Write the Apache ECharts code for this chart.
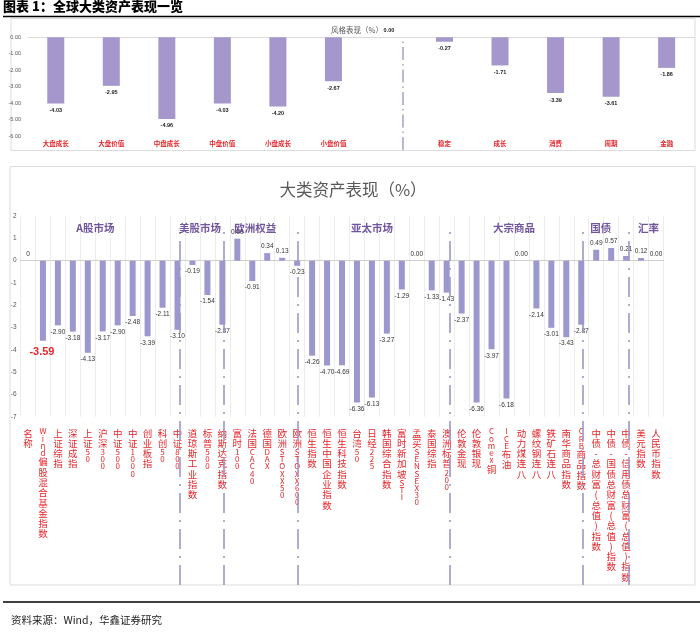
<!DOCTYPE html>
<html><head><meta charset="utf-8">
<script src="https://cdn.jsdelivr.net/npm/echarts@6/dist/echarts.min.js"></script>
<style>html,body{margin:0;padding:0;background:#fff}#c{width:700px;height:638px}</style>
</head><body><div id="c"></div>
<script>
// ---- data: style panel (top) ----
const styleCats = ['大盘成长','大盘价值','中盘成长','中盘价值','小盘成长','小盘价值','','稳定','成长','消费','周期','金融'];
const styleVals = [-4.03,-2.95,-4.96,-4.03,-4.20,-2.67,0.00,-0.27,-1.71,-3.39,-3.61,-1.86];
const styleTickMin = -6, styleTickMax = 0, styleTickStep = 1;
const styleDividerAt = [6.25];

// ---- data: asset panel (bottom) ----
const assetCats = ['名称','Wind偏股混合基金指数','上证综指','深证成指','上证50','沪深300','中证500','中证1000','创业板指','科创50','中证800',
  '道琼斯工业指数','标普500','纳斯达克指数',
  '富时100','法国CAC40','德国DAX','欧洲STOXX50','欧洲STOXX600',
  '恒生指数','恒生中国企业指数','恒生科技指数','台湾50','日经225','韩国综合指数','富时新加坡STI','孟买SENSEX30','泰国综指','澳洲标普200',
  '伦敦金现','伦敦银现','Comex铜','ICE布油','动力煤连八','螺纹钢连八','铁矿石连八','南华商品指数','CRB商品指数',
  '中债-总财富(总值)指数','中债-国债总财富(总值)指数','中债-信用债总财富(总值)指数',
  '美元指数','人民币指数'];
const assetVals = [0,-3.59,-2.90,-3.18,-4.13,-3.17,-2.90,-2.48,-3.39,-2.11,-3.10,
  -0.19,-1.54,-2.87,
  0.99,-0.91,0.34,0.13,-0.23,
  -4.26,-4.70,-4.69,-6.36,-6.13,-3.27,-1.29,0.00,-1.33,-1.43,
  -2.37,-6.36,-3.97,-6.18,0.00,-2.14,-3.01,-3.43,-2.87,
  0.49,0.57,0.21,
  0.12,0.00];
const assetTickMin = -7, assetTickMax = 2, assetTickStep = 1;
const highlightIdx = 1;
const groupNames = ['A股市场','美股市场','欧洲权益','亚太市场','大宗商品','国债','汇率'];
const groupAt = [4.5, 11.5, 15.2, 23.0, 32.5, 38.3, 41.5];
const groupLevel = 1.48;
const dividerAt = [10.15, 13.1, 18.05, 28.2, 37.1, 40.2];

// ---- layout / style ----
const CJK = '"Noto Sans CJK SC","Noto Sans",sans-serif';
const NARROW = '"Liberation Sans Narrow","Liberation Sans",Arial,sans-serif';
const RED = '#e5262b';
const BAR_TOP = '#a596cc';
const BAR_BOT = '#9c97cc';
const DIV_COLOR = '#9b98c6';

function vert(s){
  return Array.from(s).map(ch => /[A-Za-z0-9]/.test(ch) ? '{l|'+ch+'}' : '{c|'+ch+'}').join('\n');
}

const chart = echarts.init(document.getElementById('c'), null, {renderer:'canvas'});

const G = {outerBoundsMode:'none', containLabel:false};
const option = {
  animation:false,
  backgroundColor:'#ffffff',
  title:[
    {text:'风格表现（%）', left:352, top:21, textAlign:'center',
     textStyle:{fontFamily:CJK, fontSize:7.5, fontWeight:'normal', color:'#595959'}},
    {text:'大类资产表现（%）', left:348, top:176, textAlign:'center',
     textStyle:{fontFamily:CJK, fontSize:16.5, fontWeight:'normal', color:'#595959'}}
  ],
  graphic:[
    {type:'text', left:3, top:0, style:{text:'图表 1：全球大类资产表现一览', font:'900 13px '+CJK, fill:'#000'}},
    {type:'line', shape:{x1:3,y1:16.5,x2:700,y2:16.5}, style:{stroke:'#000', lineWidth:1.5}},
    {type:'rect', shape:{x:11,y:18.5,width:684,height:132}, style:{fill:'none', stroke:'#dcdcdc', lineWidth:1}},
    {type:'rect', shape:{x:10,y:166.5,width:685,height:418.5}, style:{fill:'none', stroke:'#dcdcdc', lineWidth:1}},
    {type:'line', shape:{x1:3,y1:602,x2:700,y2:602}, style:{stroke:'#000', lineWidth:1.5}},
    {type:'text', left:11, top:615, style:{text:'资料来源：Wind，华鑫证券研究', font:'10.5px '+CJK, fill:'#222'}}
  ],
  grid:[
    Object.assign({left:28, right:5.6, top:37.3, bottom:638-136}, G),
    Object.assign({left:28, right:5.6, top:40, bottom:638-150}, G),
    Object.assign({left:20.5, right:36.5, top:216.1, bottom:638-416.8}, G),
    Object.assign({left:20.5, right:36.5, top:232, bottom:638-585}, G)
  ],
  xAxis:[
    {type:'category', gridIndex:0, data:styleCats,
     axisLine:{onZero:true, lineStyle:{color:'#d9d9d9'}}, axisTick:{show:false},
     axisLabel:{interval:0, margin:4.5, fontFamily:CJK, fontSize:6.5, fontWeight:'bold', color:RED},
     splitLine:{show:false}},
    {type:'value', gridIndex:1, min:-0.5, max:styleCats.length-0.5, show:false},
    {type:'category', gridIndex:2, data:assetCats,
     axisLine:{onZero:true, lineStyle:{color:'#d0d0d0'}}, axisTick:{show:false},
     splitLine:{show:true, interval:0, lineStyle:{color:'#ececec', width:1}},
     axisLabel:{interval:0, margin:11, color:RED, fontFamily:CJK,
       formatter:(v)=>vert(v),
       rich:{c:{fontFamily:CJK, fontSize:9.5, lineHeight:10.3, color:RED},
             l:{fontFamily:CJK, fontSize:8, lineHeight:7.2, color:RED}}}},
    {type:'value', gridIndex:2, position:'top', min:-0.5, max:assetCats.length-0.5, show:false},
    {type:'value', gridIndex:3, min:-0.5, max:assetCats.length-0.5, show:false}
  ],
  yAxis:[
    {type:'value', gridIndex:0, min:styleTickMin, max:styleTickMax, interval:styleTickStep,
     axisLine:{show:false}, axisTick:{show:false}, splitLine:{show:false},
     axisLabel:{margin:7, fontFamily:NARROW, fontSize:5.5, color:'#555', formatter:(v)=>v.toFixed(2)}},
    {type:'value', gridIndex:1, min:0, max:1, show:false},
    {type:'value', gridIndex:2, min:assetTickMin, max:assetTickMax, interval:assetTickStep,
     axisLine:{show:false}, axisTick:{show:false}, splitLine:{show:false},
     axisLabel:{margin:4, fontFamily:NARROW, fontSize:6.5, color:'#555'}},
    {type:'value', gridIndex:3, min:0, max:1, show:false}
  ],
  series:[
    {type:'bar', xAxisIndex:0, yAxisIndex:0, barWidth:17,
     itemStyle:{color:BAR_TOP},
     data: styleVals.map(v => ({value:v, label:{position: v<0 ? 'bottom':'top'}})),
     label:{show:true, distance:4, fontFamily:NARROW, fontSize:5.5, fontWeight:'bold', color:'#222',
       formatter:(p)=>p.value.toFixed(2)}},
    {type:'scatter', xAxisIndex:1, yAxisIndex:1, symbolSize:0, silent:true, z:5,
     data: styleDividerAt.map(x => [x, 0.5]),
     markLine:{symbol:'none', silent:true, label:{show:false},
       lineStyle:{color:'#a3a3c2', width:1.5, type:[13,4,1.5,4]},
       data: styleDividerAt.map(x => ({xAxis:x}))}},
    {type:'bar', xAxisIndex:2, yAxisIndex:2, barWidth:6,
     itemStyle:{color:BAR_BOT},
     data: assetVals.map((v,i) => {
       const d = {value:v, label:{position: v<0 ? 'bottom':'top'}};
       if (i === highlightIdx) d.label = {position:'bottom', color:RED, fontSize:11, fontWeight:'bold', distance:6, offset:[-1,0]};
       return d;
     }),
     label:{show:true, distance:3, fontFamily:NARROW, fontSize:6.5, color:'#333',
       formatter:(p)=> p.dataIndex === 0 ? String(p.value) : p.value.toFixed(2)}},
    {type:'scatter', xAxisIndex:3, yAxisIndex:2, symbolSize:0, silent:true, z:6,
     data: groupAt.map((x,i) => ({name:groupNames[i], value:[x, groupLevel]})),
     label:{show:true, position:'inside', formatter:'{b}', fontFamily:CJK, fontSize:10.5, fontWeight:'bold', color:'#4e2a84'}},
    {type:'scatter', xAxisIndex:4, yAxisIndex:3, symbolSize:0, silent:true, z:7,
     data: dividerAt.map(x => [x, 0.5]),
     markLine:{symbol:'none', silent:true, label:{show:false},
       lineStyle:{color:DIV_COLOR, width:1.6, type:[20,7,2,7]},
       data: dividerAt.map(x => ({xAxis:x}))}}
  ]
};
chart.setOption(option);
</script></body></html>
